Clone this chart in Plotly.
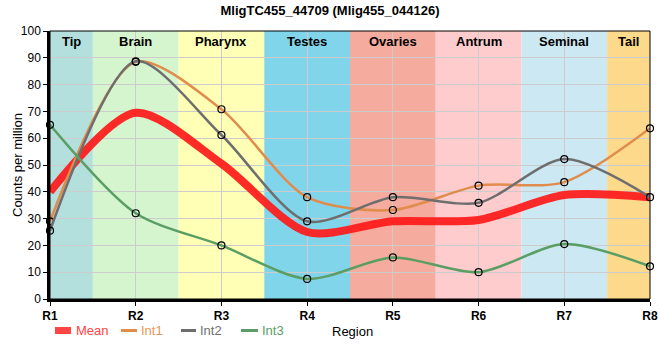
import plotly.graph_objects as go

regions = ["R1", "R2", "R3", "R4", "R5", "R6", "R7", "R8"]
band_names = ["Tip", "Brain", "Pharynx", "Testes", "Ovaries", "Antrum", "Seminal", "Tail"]
band_colors = ["#b3e0dd", "#d5f5cf", "#ffffb5", "#80d5ea", "#f5ab9e", "#ffccce", "#cce9f3", "#fdd98c"]

mean_vals = [40.0, 69.5, 50.5, 25.0, 29.0, 29.5, 38.8, 38.0]
int1_vals = [29.0, 88.5, 70.8, 38.0, 33.2, 42.3, 43.6, 63.7]
int2_vals = [25.5, 88.7, 61.2, 29.0, 38.0, 35.9, 52.2, 38.0]
int3_vals = [65.0, 32.0, 20.0, 7.5, 15.5, 10.0, 20.5, 12.2]

series_names = ["Mean", "Int1", "Int2", "Int3"]
series_vals = [mean_vals, int1_vals, int2_vals, int3_vals]
line_colors = ["rgba(255,25,25,0.92)", "#e08c4c", "#6e6e6e", "#5a9e64"]
text_colors = ["#ff4444", "#e8955a", "#707070", "#5aa065"]
line_widths = [8, 2.5, 2.5, 2.5]
with_markers = [False, True, True, True]

W, H = 660, 360
ML, MR, MT, MB = 50, 10, 31, 61
PW, PH = W - ML - MR, H - MT - MB

def px(x):
    return (x - ML) / PW

def py(y):
    return (H - MB - y) / PH

xs = list(range(1, len(regions) + 1))
fig = go.Figure()

for name, vals, col, w, mk in zip(series_names, series_vals, line_colors, line_widths, with_markers):
    fig.add_trace(go.Scatter(
        x=xs, y=vals, name=name, showlegend=False,
        mode="lines+markers" if mk else "lines",
        line=dict(color=col, width=w, shape="spline", smoothing=0.8),
        marker=dict(symbol="circle-open", size=7, color="black", line=dict(width=1.2, color="black")),
        hoverinfo="skip", cliponaxis=False,
    ))

shapes = []
n = len(regions)
for i, bc in enumerate(band_colors):
    x0 = max(1, xs[i] - 0.5)
    x1 = min(n, xs[i] + 0.5)
    shapes.append(dict(type="rect", xref="x", yref="paper", x0=x0, x1=x1, y0=0, y1=1,
                       fillcolor=bc, line=dict(width=0), layer="below"))
# thin frame on top/right
shapes.append(dict(type="rect", xref="paper", yref="paper", x0=0, x1=1, y0=0, y1=1,
                   line=dict(color="black", width=1), fillcolor="rgba(0,0,0,0)", layer="above"))

annotations = []
for i, bn in enumerate(band_names):
    x0 = max(1, xs[i] - 0.5)
    x1 = min(n, xs[i] + 0.5)
    annotations.append(dict(x=(x0 + x1) / 2, y=1, xref="x", yref="paper", yanchor="top",
                            yshift=-1, text=f"<b>{bn}</b>", showarrow=False,
                            font=dict(size=13, color="black")))

# manual legend (compact, like the reference)
leg_y = 330.5
leg_items = [  # (symbol x0, x1, text x)
    (55, 71, 74),
    (121, 137, 139),
    (181, 196, 198),
    (241, 258, 260),
]
for (x0, x1, tx), name, col, tcol, w in zip(leg_items, series_names, line_colors, text_colors, line_widths):
    lw = 7 if w > 4 else 3
    shapes.append(dict(type="line", xref="paper", yref="paper",
                       x0=px(x0), x1=px(x1), y0=py(leg_y), y1=py(leg_y),
                       line=dict(color=tcol if w > 4 else col, width=lw)))
    annotations.append(dict(x=px(tx), y=py(leg_y), xref="paper", yref="paper",
                            xanchor="left", yanchor="middle", text=name, showarrow=False,
                            font=dict(size=13, color=tcol)))
annotations.append(dict(x=px(352), y=py(331), xref="paper", yref="paper",
                        xanchor="center", yanchor="middle", text="Region", showarrow=False,
                        font=dict(size=13, color="black")))
annotations.append(dict(x=px(17), y=0.5, xref="paper", yref="paper", textangle=-90,
                        xanchor="center", yanchor="middle", text="Counts per million",
                        showarrow=False, font=dict(size=13, color="black")))

fig.update_layout(
    width=W, height=H,
    margin=dict(l=ML, r=MR, t=MT, b=MB, autoexpand=False),
    paper_bgcolor="white", plot_bgcolor="white",
    font=dict(family="Liberation Sans, Arial, sans-serif", size=12, color="black"),
    title=dict(text="<b>MligTC455_44709 (Mlig455_044126)</b>", x=0.5, xanchor="center",
               yref="container", y=1 - 10.5 / H, yanchor="middle", font=dict(size=13)),
    shapes=shapes, annotations=annotations,
    showlegend=False,
)
fig.update_xaxes(
    range=[1, 8], tickvals=xs, ticktext=[f"<b>{r}</b>" for r in regions],
    showgrid=True, gridcolor="#cccccc", gridwidth=1,
    showline=True, linecolor="black", linewidth=2.5,
    ticks="outside", ticklen=4, tickcolor="black",
    zeroline=False, tickfont=dict(size=12), automargin=False,
)
fig.update_yaxes(
    range=[0, 100], dtick=10,
    showgrid=True, gridcolor="#cccccc", gridwidth=1,
    showline=True, linecolor="black", linewidth=2.5,
    ticks="outside", ticklen=4, tickcolor="black",
    zeroline=False, tickfont=dict(size=12), automargin=False,
)

fig.write_html("out.html", config={"displayModeBar": False},
               post_script="document.body.style.margin='0';document.body.style.overflow='hidden';")
